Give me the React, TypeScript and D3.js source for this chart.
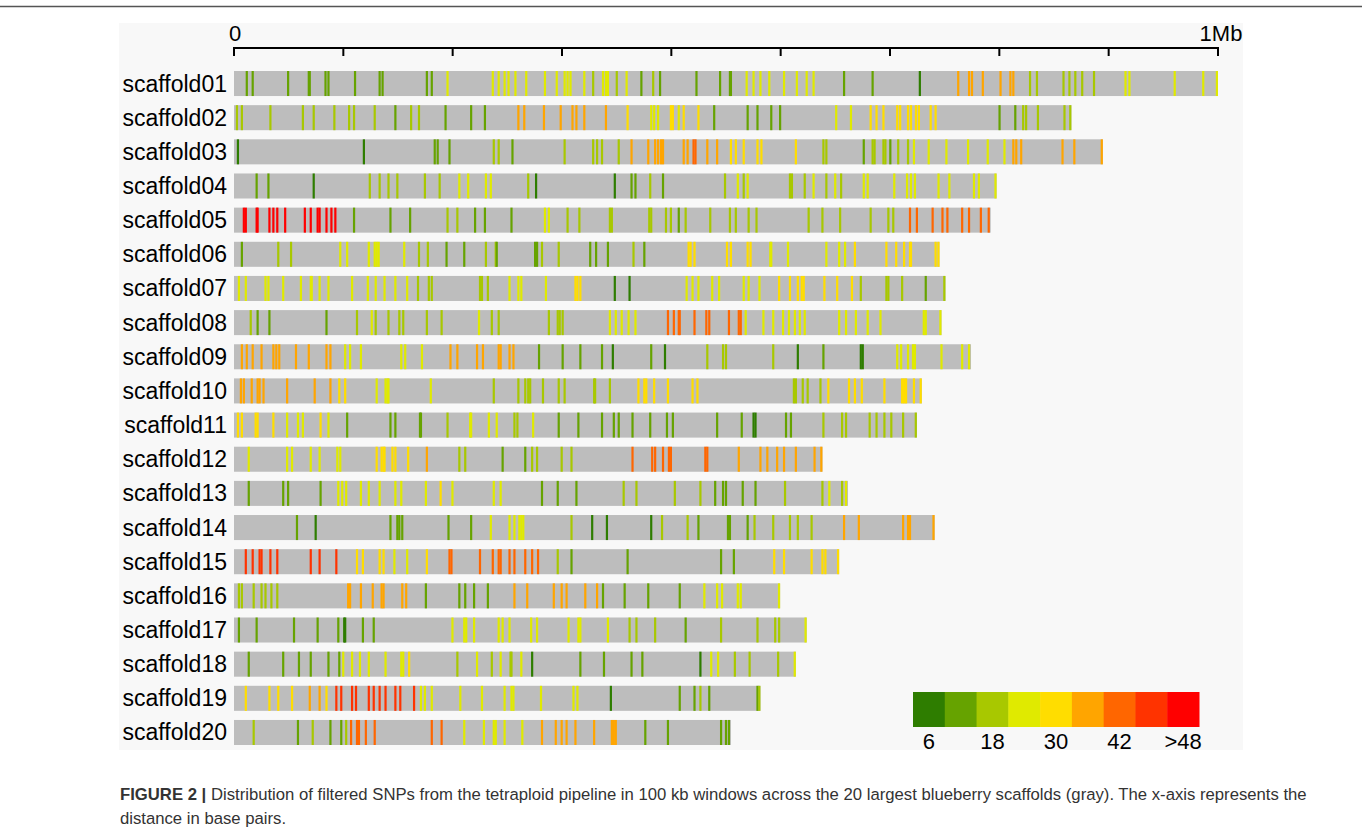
import React from "react";
import * as d3 from "d3";

// Scaffold names and their lengths in kb
const scaffolds = [
  "scaffold01", "scaffold02", "scaffold03", "scaffold04", "scaffold05",
  "scaffold06", "scaffold07", "scaffold08", "scaffold09", "scaffold10",
  "scaffold11", "scaffold12", "scaffold13", "scaffold14", "scaffold15",
  "scaffold16", "scaffold17", "scaffold18", "scaffold19", "scaffold20",
];
const lengthsKb = [1000, 851, 883, 775, 769, 717, 723, 719, 749, 699, 694, 598, 624, 712, 615, 555, 582, 571, 535, 505];

// SNP density bins: colour class 0..8 (6 SNPs per class step)
const binColors = ["#2e7d00", "#66a300", "#a8c800", "#e0ea00", "#ffdd00", "#ffa500", "#ff6600", "#ff3300", "#ff0000"];
const legendLabels = ["6", "", "18", "", "30", "", "42", "", ">48"];

// Axis labels
const axisLabels = [{ at: 0, text: "0" }, { at: 1000, text: "1Mb" }];

// Windows per scaffold: [position in kb, density class]
const s01 = [[13,1],[19,1],[55,1],[76,1],[77,1],[93,1],[96,1],[123,1],[148,1],[151,1],[196,1],[201,1],[217,3],[263,3],[269,3],[275,3],[279,3],[286,3],[297,3],[316,3],[328,3],[336,3],[339,3],[342,3],[356,3],[365,2],[375,3],[378,3],[380,3],[389,2],[399,3],[414,1],[426,2],[433,1],[470,1],[494,1],[504,1],[505,1],[521,3],[528,3],[535,3],[544,3],[559,3],[572,3],[582,3],[589,3],[620,1],[649,1],[697,0],[736,5],[747,5],[750,5],[761,5],[779,5],[789,5],[792,5],[809,2],[816,2],[843,2],[849,2],[855,2],[862,2],[874,2],[906,3],[910,3],[956,3],[985,3],[999,3]];
const s02 = [[3,2],[8,2],[37,2],[70,2],[81,2],[102,2],[117,2],[122,2],[143,2],[164,1],[180,2],[188,2],[215,1],[241,1],[255,1],[289,5],[295,5],[315,5],[332,5],[344,5],[348,5],[356,5],[378,5],[400,4],[424,3],[427,3],[431,3],[444,4],[446,4],[452,3],[457,4],[472,4],[488,1],[522,1],[532,1],[546,1],[555,1],[612,3],[627,3],[647,4],[653,4],[660,4],[674,4],[677,4],[685,4],[688,4],[693,4],[696,4],[708,4],[713,4],[778,1],[794,1],[802,2],[805,2],[817,2],[844,2],[850,2]];
const s03 = [[4,0],[132,0],[204,1],[207,1],[219,1],[264,2],[269,2],[283,1],[336,2],[365,2],[369,2],[374,2],[391,2],[404,5],[421,5],[428,5],[431,5],[434,5],[436,5],[457,5],[461,5],[467,6],[469,6],[481,5],[491,5],[505,4],[510,4],[518,4],[532,4],[536,4],[571,4],[599,2],[602,2],[640,1],[649,2],[651,2],[660,2],[662,2],[667,1],[675,2],[685,2],[691,3],[706,3],[724,3],[746,3],[766,3],[783,3],[792,5],[795,5],[800,5],[842,5],[854,5],[882,5]];
const s04 = [[23,1],[35,1],[81,0],[138,2],[148,2],[157,2],[166,2],[194,2],[209,2],[229,3],[238,3],[256,3],[261,3],[299,2],[307,0],[387,0],[404,1],[408,1],[423,2],[436,1],[499,2],[512,3],[518,2],[522,3],[565,2],[567,2],[580,2],[589,3],[602,2],[611,3],[617,2],[640,3],[644,3],[671,3],[684,3],[688,3],[692,3],[716,3],[727,3],[752,3],[757,3],[774,3]];
const s05 = [[10,8],[12,8],[23,8],[24,8],[36,8],[40,8],[44,8],[52,8],[72,8],[78,8],[85,8],[87,8],[94,8],[99,8],[103,8],[122,1],[159,1],[179,1],[217,2],[227,2],[245,1],[255,1],[282,1],[316,3],[320,3],[339,2],[351,2],[382,2],[384,2],[422,2],[424,2],[439,2],[444,2],[452,1],[459,2],[484,2],[504,2],[510,2],[523,2],[531,2],[584,2],[598,2],[616,2],[647,2],[665,2],[670,2],[687,6],[694,6],[710,6],[720,6],[725,6],[740,6],[747,6],[759,6],[767,6]];
const s06 = [[8,1],[45,2],[58,2],[108,3],[115,3],[137,3],[143,3],[145,3],[147,3],[173,3],[188,2],[197,2],[216,1],[234,1],[256,2],[266,2],[267,1],[306,1],[308,1],[313,2],[330,2],[362,1],[368,1],[380,1],[406,2],[417,1],[462,4],[464,4],[468,4],[501,4],[505,4],[522,4],[525,4],[545,3],[546,3],[563,3],[602,3],[615,3],[621,3],[631,4],[663,4],[673,4],[681,4],[687,4],[688,4],[713,4],[716,4]];
const s07 = [[5,3],[12,3],[32,3],[35,3],[50,3],[68,3],[78,3],[79,3],[87,3],[96,3],[120,3],[136,3],[144,3],[153,3],[164,3],[176,3],[187,2],[198,2],[201,2],[250,2],[252,2],[258,2],[280,3],[289,3],[292,3],[317,3],[347,4],[349,4],[352,4],[387,0],[402,0],[460,3],[466,3],[472,3],[486,3],[493,3],[518,3],[523,3],[534,3],[554,4],[565,4],[573,4],[577,4],[579,4],[600,4],[613,4],[628,4],[637,2],[663,2],[665,2],[679,2],[703,1],[722,2]];
const s08 = [[17,2],[24,1],[36,1],[94,1],[125,2],[140,3],[144,2],[157,2],[168,2],[172,2],[196,2],[211,2],[249,3],[262,2],[269,2],[320,2],[329,2],[331,2],[334,2],[382,3],[388,3],[394,3],[401,3],[408,3],[441,6],[447,6],[452,6],[453,6],[468,6],[480,6],[483,6],[503,6],[513,6],[515,6],[520,3],[538,3],[548,3],[558,3],[564,3],[570,3],[575,3],[580,3],[615,3],[622,3],[632,3],[644,3],[657,3],[701,3],[703,3],[719,3]];
const s09 = [[8,5],[13,5],[19,5],[28,5],[40,5],[43,5],[46,5],[63,5],[76,5],[94,5],[98,5],[113,3],[118,3],[129,3],[170,3],[174,3],[191,3],[220,5],[227,5],[247,5],[253,5],[269,5],[271,5],[280,5],[284,5],[310,1],[334,1],[352,1],[374,1],[385,0],[424,1],[438,0],[481,2],[497,2],[500,2],[548,2],[573,0],[599,1],[637,0],[639,0],[674,3],[678,3],[685,3],[690,3],[692,3],[719,3],[740,3],[747,3]];
const s10 = [[7,5],[10,5],[18,5],[24,5],[26,5],[30,5],[54,5],[82,5],[98,5],[107,4],[113,4],[145,3],[154,3],[156,3],[157,3],[200,3],[264,2],[289,2],[296,2],[299,2],[301,2],[314,2],[330,2],[336,2],[366,2],[367,2],[382,2],[411,4],[417,4],[419,4],[427,4],[441,4],[466,4],[471,4],[569,2],[571,2],[578,2],[583,2],[596,2],[604,4],[625,4],[631,4],[638,4],[661,4],[679,4],[681,4],[683,4],[691,4],[698,4]];
const s11 = [[4,4],[8,4],[22,4],[24,4],[40,4],[54,3],[65,3],[70,3],[88,4],[96,3],[115,1],[159,1],[164,1],[189,1],[190,1],[217,2],[240,3],[241,3],[259,3],[267,3],[285,2],[288,2],[304,3],[330,1],[350,1],[374,1],[386,1],[391,1],[405,1],[423,1],[440,1],[446,1],[491,1],[516,1],[528,0],[530,0],[561,1],[566,1],[599,2],[618,2],[622,2],[646,2],[653,2],[661,2],[668,2],[680,2],[693,2]];
const s12 = [[15,3],[54,3],[59,3],[78,3],[87,3],[105,3],[108,3],[145,4],[150,4],[152,4],[153,4],[161,4],[164,4],[177,4],[196,5],[229,2],[235,2],[273,1],[296,1],[303,2],[308,2],[333,2],[343,2],[405,6],[425,6],[428,6],[436,6],[442,6],[444,6],[479,6],[481,6],[513,5],[535,5],[542,5],[552,5],[559,5],[571,5],[590,5],[597,5]];
const s13 = [[15,1],[50,1],[55,1],[88,1],[106,3],[110,3],[114,3],[129,3],[137,3],[148,3],[164,3],[170,3],[195,3],[210,4],[222,3],[264,3],[271,3],[313,1],[329,1],[348,1],[396,2],[409,2],[448,2],[474,2],[489,1],[497,1],[500,1],[517,1],[530,1],[560,2],[598,2],[605,3],[618,2],[622,3]];
const s14 = [[64,1],[83,0],[159,1],[166,1],[168,1],[171,1],[218,1],[241,1],[261,3],[280,3],[285,3],[290,3],[292,3],[294,3],[343,2],[364,0],[379,0],[424,0],[435,2],[461,2],[472,1],[502,1],[504,1],[522,1],[529,2],[548,2],[565,2],[573,2],[587,2],[620,5],[635,5],[680,5],[685,5],[687,5],[711,5]];
const s15 = [[12,7],[19,7],[26,7],[28,7],[37,7],[44,7],[78,7],[87,7],[104,7],[125,4],[131,4],[148,4],[152,4],[163,3],[176,3],[196,4],[219,6],[221,6],[250,6],[263,6],[269,6],[271,6],[280,6],[285,6],[296,6],[303,6],[309,6],[329,2],[343,1],[400,1],[495,1],[508,1],[549,4],[559,4],[587,4],[598,4],[601,4],[614,4]];
const s16 = [[5,2],[8,2],[20,2],[28,2],[32,2],[38,2],[44,2],[116,5],[118,5],[129,5],[141,5],[150,5],[152,5],[171,5],[175,5],[195,1],[229,1],[235,1],[244,1],[258,1],[285,5],[298,5],[325,5],[333,5],[338,5],[357,5],[369,5],[375,1],[397,1],[421,1],[453,1],[478,3],[491,3],[496,3],[512,3],[515,3],[554,3]];
const s17 = [[5,1],[23,1],[61,1],[85,1],[106,1],[112,0],[113,0],[131,1],[142,1],[222,3],[234,3],[236,3],[244,3],[269,3],[273,3],[280,3],[302,3],[308,3],[340,3],[350,3],[352,3],[380,3],[402,2],[409,2],[428,2],[459,1],[495,2],[532,2],[550,2],[554,2],[581,3]];
const s18 = [[15,1],[50,1],[66,1],[78,1],[96,1],[107,1],[111,3],[120,3],[128,3],[137,3],[154,3],[170,3],[172,3],[178,4],[227,2],[247,3],[262,2],[271,3],[281,2],[282,2],[292,3],[303,0],[352,1],[376,1],[404,1],[415,1],[474,0],[485,3],[492,3],[509,2],[524,2],[553,2],[570,3]];
const s19 = [[12,4],[36,4],[45,4],[59,4],[77,5],[87,5],[94,4],[104,7],[109,7],[120,7],[124,7],[137,7],[142,7],[148,7],[154,7],[164,7],[169,7],[183,7],[190,3],[194,3],[201,3],[230,3],[252,3],[275,3],[282,3],[284,3],[312,3],[345,3],[349,3],[383,0],[453,1],[468,1],[474,2],[483,1],[532,1],[534,2]];
const s20 = [[20,2],[65,1],[80,2],[98,1],[109,1],[114,2],[119,6],[125,6],[127,6],[134,6],[143,6],[201,6],[211,6],[234,3],[254,3],[264,3],[266,3],[275,3],[293,3],[313,5],[327,5],[333,5],[338,5],[347,5],[366,5],[384,5],[386,5],[388,5],[418,1],[441,1],[495,1],[500,1],[503,1]];

const windows = [s01, s02, s03, s04, s05, s06, s07, s08, s09, s10, s11, s12, s13, s14, s15, s16, s17, s18, s19, s20];

const W = 1362;
const H = 839;
const FONT = "'Liberation Sans', Arial, Helvetica, sans-serif";

export default function App() {
  const x = d3.scaleLinear().domain([0, 1000]).range([234, 1218]);
  const y = d3.scaleBand<string>().domain(scaffolds).range([71, 745]).paddingInner(0.267).paddingOuter(0);
  const bh = y.bandwidth();
  const tickValues = d3.range(10).map((i) => (i * 1000) / 9);

  const legendX = d3.scaleBand<number>().domain(d3.range(binColors.length)).range([913, 1199]);
  const markW = 2.2;

  return (
    <svg
      width={W}
      height={H}
      style={{ position: "absolute", left: 0, top: 0, background: "#ffffff" }}
      fontFamily={FONT}
    >
      {/* frame line at the top */}
      <line x1={0} x2={W} y1={6.5} y2={6.5} stroke="#555" strokeWidth={1.5} />

      {/* panel background */}
      <rect x={119} y={23} width={1124} height={727} fill="#f8f8f8" />

      {/* distance axis */}
      <g>
        <line x1={x(0)} x2={x(1000)} y1={48} y2={48} stroke="#000" strokeWidth={2} />
        {tickValues.map((t, i) => (
          <line key={i} x1={x(t)} x2={x(t)} y1={47} y2={56} stroke="#000" strokeWidth={2} />
        ))}
        {axisLabels.map((d) => (
          <text key={d.text} x={x(d.at) + (d.at === 0 ? 1 : 3)} y={41} fontSize={22} textAnchor="middle" fill="#000">
            {d.text}
          </text>
        ))}
      </g>

      {/* scaffolds */}
      {scaffolds.map((name, i) => {
        const y0 = y(name) as number;
        return (
          <g key={name}>
            <text x={227} y={y0 + bh / 2 + 8} fontSize={23} textAnchor="end" fill="#000">
              {name}
            </text>
            <rect x={x(0)} y={y0} width={x(lengthsKb[i]) - x(0)} height={bh} fill="#bdbdbd" />
            {windows[i].map(([pos, lvl], j) => {
              const cx = Math.min(x(pos), x(lengthsKb[i]) - markW / 2);
              return (
                <rect
                  key={j}
                  x={cx - markW / 2}
                  y={y0}
                  width={markW}
                  height={bh}
                  fill={binColors[lvl]}
                />
              );
            })}
          </g>
        );
      })}

      {/* colour key */}
      <g>
        {binColors.map((c, i) => (
          <rect key={i} x={legendX(i) as number} y={692} width={legendX.bandwidth() + 0.5} height={35} fill={c} />
        ))}
        {legendLabels.map((lab, i) =>
          lab ? (
            <text
              key={i}
              x={(legendX(i) as number) + legendX.bandwidth() / 2}
              y={749}
              fontSize={22}
              textAnchor="middle"
              fill="#000"
            >
              {lab}
            </text>
          ) : null
        )}
      </g>

      {/* caption */}
      <text x={120} y={800} fontSize={16.7} fill="#333">
        <tspan fontWeight="bold">FIGURE 2 |</tspan> Distribution of filtered SNPs from the tetraploid pipeline in 100 kb windows across the 20 largest blueberry scaffolds (gray). The x-axis represents the
      </text>
      <text x={120} y={824} fontSize={16.7} fill="#333">
        distance in base pairs.
      </text>
    </svg>
  );
}
